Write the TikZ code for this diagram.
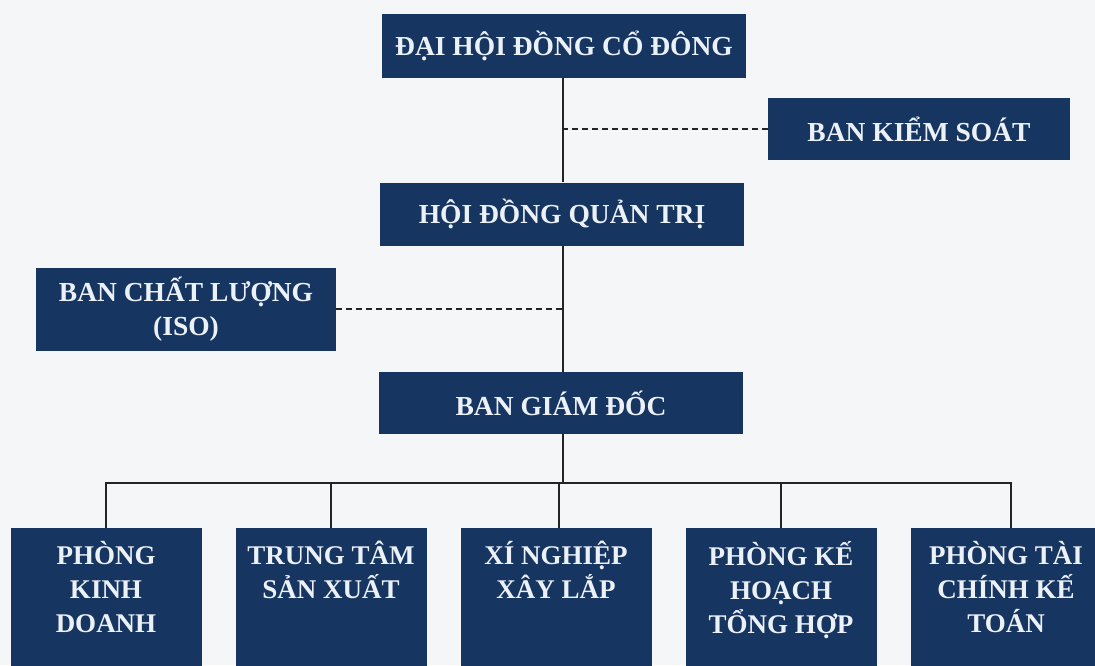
\documentclass[tikz,border=0pt]{standalone}
\usepackage{fontspec}
\setmainfont{Liberation Serif}
\definecolor{navy}{RGB}{22,53,97}
\definecolor{bg}{RGB}{244,246,248}
\definecolor{txt}{RGB}{236,241,247}
\definecolor{ln}{RGB}{35,35,40}
\tikzset{
  box/.style={fill=navy, draw=none, inner sep=0pt, text=txt, font=\bfseries\fontsize{27.5}{34}\selectfont, align=center},
  dept/.style={fill=navy, draw=none, inner sep=0pt, minimum width=191pt, minimum height=142pt, anchor=north},
  depttext/.style={text=txt, font=\bfseries\fontsize{27}{34}\selectfont, align=center, anchor=north, inner sep=0pt},
  conn/.style={draw=ln, line width=1.3pt},
  dconn/.style={draw=ln, line width=1.3pt, dash pattern=on 6pt off 4pt}
}
\begin{document}
\begin{tikzpicture}[x=1pt,y=-1pt]
\fill[bg] (0,0) rectangle (1095,665);
\useasboundingbox (0,0) rectangle (1095,665);
% top chain
\node[box, minimum width=364pt, minimum height=64pt] (dh) at (564,46) {ĐẠI HỘI ĐỒNG CỔ ĐÔNG};
\node[box, minimum width=302pt, minimum height=62pt] (ks) at (919,129) {BAN KIỂM SOÁT};
\node[box, minimum width=364pt, minimum height=63pt] (hd) at (562,214) {HỘI ĐỒNG QUẢN TRỊ};
\node[box, minimum width=300pt, minimum height=83pt] (cl) at (186,309) {BAN CHẤT LƯỢNG\\(ISO)};
\node[box, minimum width=364pt, minimum height=62pt] (gd) at (561,403) {BAN GIÁM ĐỐC};
% departments
\node[dept] (d1) at (106,528) {};
\node[dept] (d2) at (331,528) {};
\node[dept] (d3) at (556,528) {};
\node[dept] (d4) at (781,528) {};
\node[dept] (d5) at (1006,528) {};
\node[depttext] (t1) at ([yshift=-13pt]d1.north) {PHÒNG\\KINH\\DOANH};
\node[depttext] (t2) at ([yshift=-13pt]d2.north) {TRUNG TÂM\\SẢN XUẤT};
\node[depttext] (t3) at ([yshift=-13pt]d3.north) {XÍ NGHIỆP\\XÂY LẮP};
\node[depttext] (t4) at ([yshift=-13pt]d4.north) {PHÒNG KẾ\\HOẠCH\\TỔNG HỢP};
\node[depttext] (t5) at ([yshift=-13pt]d5.north) {PHÒNG TÀI\\CHÍNH KẾ\\TOÁN};
% connectors
\coordinate (spine) at (563,0);
\coordinate (bus) at (563,483);
\draw[conn] (dh.south -| spine) -- (hd.north -| spine);
\draw[conn] (hd.south -| spine) -- (gd.north -| spine);
\draw[conn] (gd.south -| spine) -- (bus);
\draw[dconn] (ks.west) -- (ks.west -| spine);
\draw[dconn] (cl.east) -- (cl.east -| spine);
\draw[conn] (d1.north) |- (bus) -| ([xshift=5pt]d5.north);
\draw[conn] (d2.north) -- (d2.north |- bus);
\draw[conn] ([xshift=3pt]d3.north) -- ([xshift=3pt]d3.north |- bus);
\draw[conn] (d4.north) -- (d4.north |- bus);
\end{tikzpicture}
\end{document}
